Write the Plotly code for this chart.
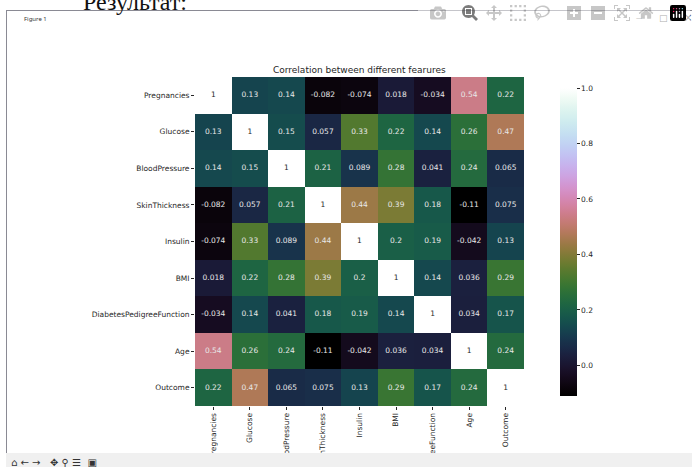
import plotly.graph_objects as go
import numpy as np

labels = ["Pregnancies", "Glucose", "BloodPressure", "SkinThickness", "Insulin", "BMI",
          "DiabetesPedigreeFunction", "Age", "Outcome"]
x_tick_text = ["regnancies", "Glucose", "odPressure", "nThickness", "Insulin", "BMI",
               "eeFunction", "Age", "Outcome"]
corr = [
    [1, 0.13, 0.14, -0.082, -0.074, 0.018, -0.034, 0.54, 0.22],
    [0.13, 1, 0.15, 0.057, 0.33, 0.22, 0.14, 0.26, 0.47],
    [0.14, 0.15, 1, 0.21, 0.089, 0.28, 0.041, 0.24, 0.065],
    [-0.082, 0.057, 0.21, 1, 0.44, 0.39, 0.18, -0.11, 0.075],
    [-0.074, 0.33, 0.089, 0.44, 1, 0.2, 0.19, -0.042, 0.13],
    [0.018, 0.22, 0.28, 0.39, 0.2, 1, 0.14, 0.036, 0.29],
    [-0.034, 0.14, 0.041, 0.18, 0.19, 0.14, 1, 0.034, 0.17],
    [0.54, 0.26, 0.24, -0.11, -0.042, 0.036, 0.034, 1, 0.24],
    [0.22, 0.47, 0.065, 0.075, 0.13, 0.29, 0.17, 0.24, 1],
]
title_text = "Correlation between different fearures"
colorbar_ticks = [0.0, 0.2, 0.4, 0.6, 0.8, 1.0]

W, H = 692, 467
FONT = "DejaVu Sans"
TXT = "#262626"


def cubehelix(n=64, gamma=1.0, s=0.5, r=-1.5, h=1.0):
    out = []
    for i in range(n):
        t = i / (n - 1)
        tg = t ** gamma
        a = h * tg * (1 - tg) / 2
        phi = 2 * np.pi * (s / 3 + r * t)
        R = tg + a * (-0.14861 * np.cos(phi) + 1.78277 * np.sin(phi))
        G = tg + a * (-0.29227 * np.cos(phi) - 0.90649 * np.sin(phi))
        B = tg + a * (1.97294 * np.cos(phi))
        c = [int(round(255 * min(max(v, 0), 1))) for v in (R, G, B)]
        out.append([t, f"rgb({c[0]},{c[1]},{c[2]})"])
    return out


def px(x0, x1):
    return [x0 / W, x1 / W]


def py(y0, y1):
    return [1 - y1 / H, 1 - y0 / H]


idx = list(range(len(labels)))
fig = go.Figure()
fig.add_trace(go.Heatmap(
    z=corr, x=idx, y=idx, zmin=-0.11, zmax=1.0, colorscale=cubehelix(),
    xgap=0, ygap=0, hoverongaps=False,
    colorbar=dict(
        x=550 / W, xanchor="left", xref="paper", thickness=17, thicknessmode="pixels",
        y=1 - 406 / H, yanchor="bottom", yref="paper", len=328 / H, lenmode="fraction",
        outlinewidth=0, tickvals=colorbar_ticks, tickformat=".1f",
        ticks="outside", ticklen=3, tickwidth=1, tickcolor=TXT,
        tickfont=dict(family=FONT, size=7.5, color=TXT),
    ),
))
cx, cy, ct, cc = [], [], [], []
for i, row in enumerate(corr):
    for j, v in enumerate(row):
        cx.append(j)
        cy.append(i)
        ct.append(f"{v:g}")
        cc.append("#262626" if v == 1 else "#e8e8e8")
fig.add_trace(go.Scatter(x=cx, y=cy, text=ct, mode="text",
                         textfont=dict(family=FONT, size=7.5, color=cc),
                         textposition="middle center", hoverinfo="skip", showlegend=False))

fig.update_layout(
    width=W, height=H, autosize=False, margin=dict(l=0, r=0, t=0, b=0),
    paper_bgcolor="white", plot_bgcolor="white", showlegend=False,
    xaxis=dict(domain=px(195, 524), range=[-0.5, 8.5], tickmode="array", tickvals=idx,
               ticktext=x_tick_text, tickangle=-90, ticks="outside", ticklen=3, tickcolor=TXT,
               tickfont=dict(family=FONT, size=7.5, color=TXT), showgrid=False, zeroline=False,
               anchor="y", constrain="domain"),
    yaxis=dict(domain=py(77, 406), range=[8.5, -0.5], tickmode="array", tickvals=idx,
               ticktext=labels, ticks="outside", ticklen=3, tickcolor=TXT,
               tickfont=dict(family=FONT, size=7.5, color=TXT), showgrid=False, zeroline=False,
               anchor="x"),
    annotations=[
        dict(text=title_text, x=359.5 / W, y=1 - 70 / H, xref="paper", yref="paper", showarrow=False,
             xanchor="center", yanchor="middle", font=dict(family=FONT, size=9, color=TXT)),
        dict(text="Figure 1", x=22 / W, y=1 - 19 / H, xref="paper", yref="paper", showarrow=False,
             xanchor="left", yanchor="middle", font=dict(family="Noto Sans", size=6, color="#333333")),
        dict(text="Результат:", x=81 / W, y=1 - 2 / H, xref="paper", yref="paper", showarrow=False,
             xanchor="left", yanchor="middle", font=dict(family="Liberation Serif", size=24, color="#111111")),
        dict(text="—", x=639 / W, y=1 - 18 / H, xref="paper", yref="paper", showarrow=False,
             xanchor="center", yanchor="middle", font=dict(family=FONT, size=6, color="#555555")),
        dict(text="□", x=663 / W, y=1 - 18 / H, xref="paper", yref="paper", showarrow=False,
             xanchor="center", yanchor="middle", font=dict(family=FONT, size=9, color="#555555")),
        dict(text="×", x=688 / W, y=1 - 18 / H, xref="paper", yref="paper", showarrow=False,
             xanchor="center", yanchor="middle", font=dict(family=FONT, size=10, color="#555555")),
        dict(text="⌂ ← → &nbsp; ✥ ⚲ ☰ &nbsp;▣", x=9 / W, y=1 - 462 / H, xref="paper", yref="paper", showarrow=False,
             xanchor="left", yanchor="middle", font=dict(family=FONT, size=10, color="#333333")),
    ],
    shapes=[
        dict(type="line", xref="paper", yref="paper", x0=6 / W, x1=1, y0=1 - 10.5 / H, y1=1 - 10.5 / H,
             line=dict(color="#8a8a94", width=1), layer="above"),
        dict(type="line", xref="paper", yref="paper", x0=6.5 / W, x1=6.5 / W, y0=1 - 10 / H, y1=14 / H,
             line=dict(color="#8a8a94", width=1), layer="above"),
        dict(type="rect", xref="paper", yref="paper", x0=6 / W, x1=1, y0=0, y1=14 / H,
             fillcolor="#f0f0f0", line=dict(width=0), layer="above"),
    ],
)
fig.write_html("out.html", post_script="document.body.style.margin='0';")
